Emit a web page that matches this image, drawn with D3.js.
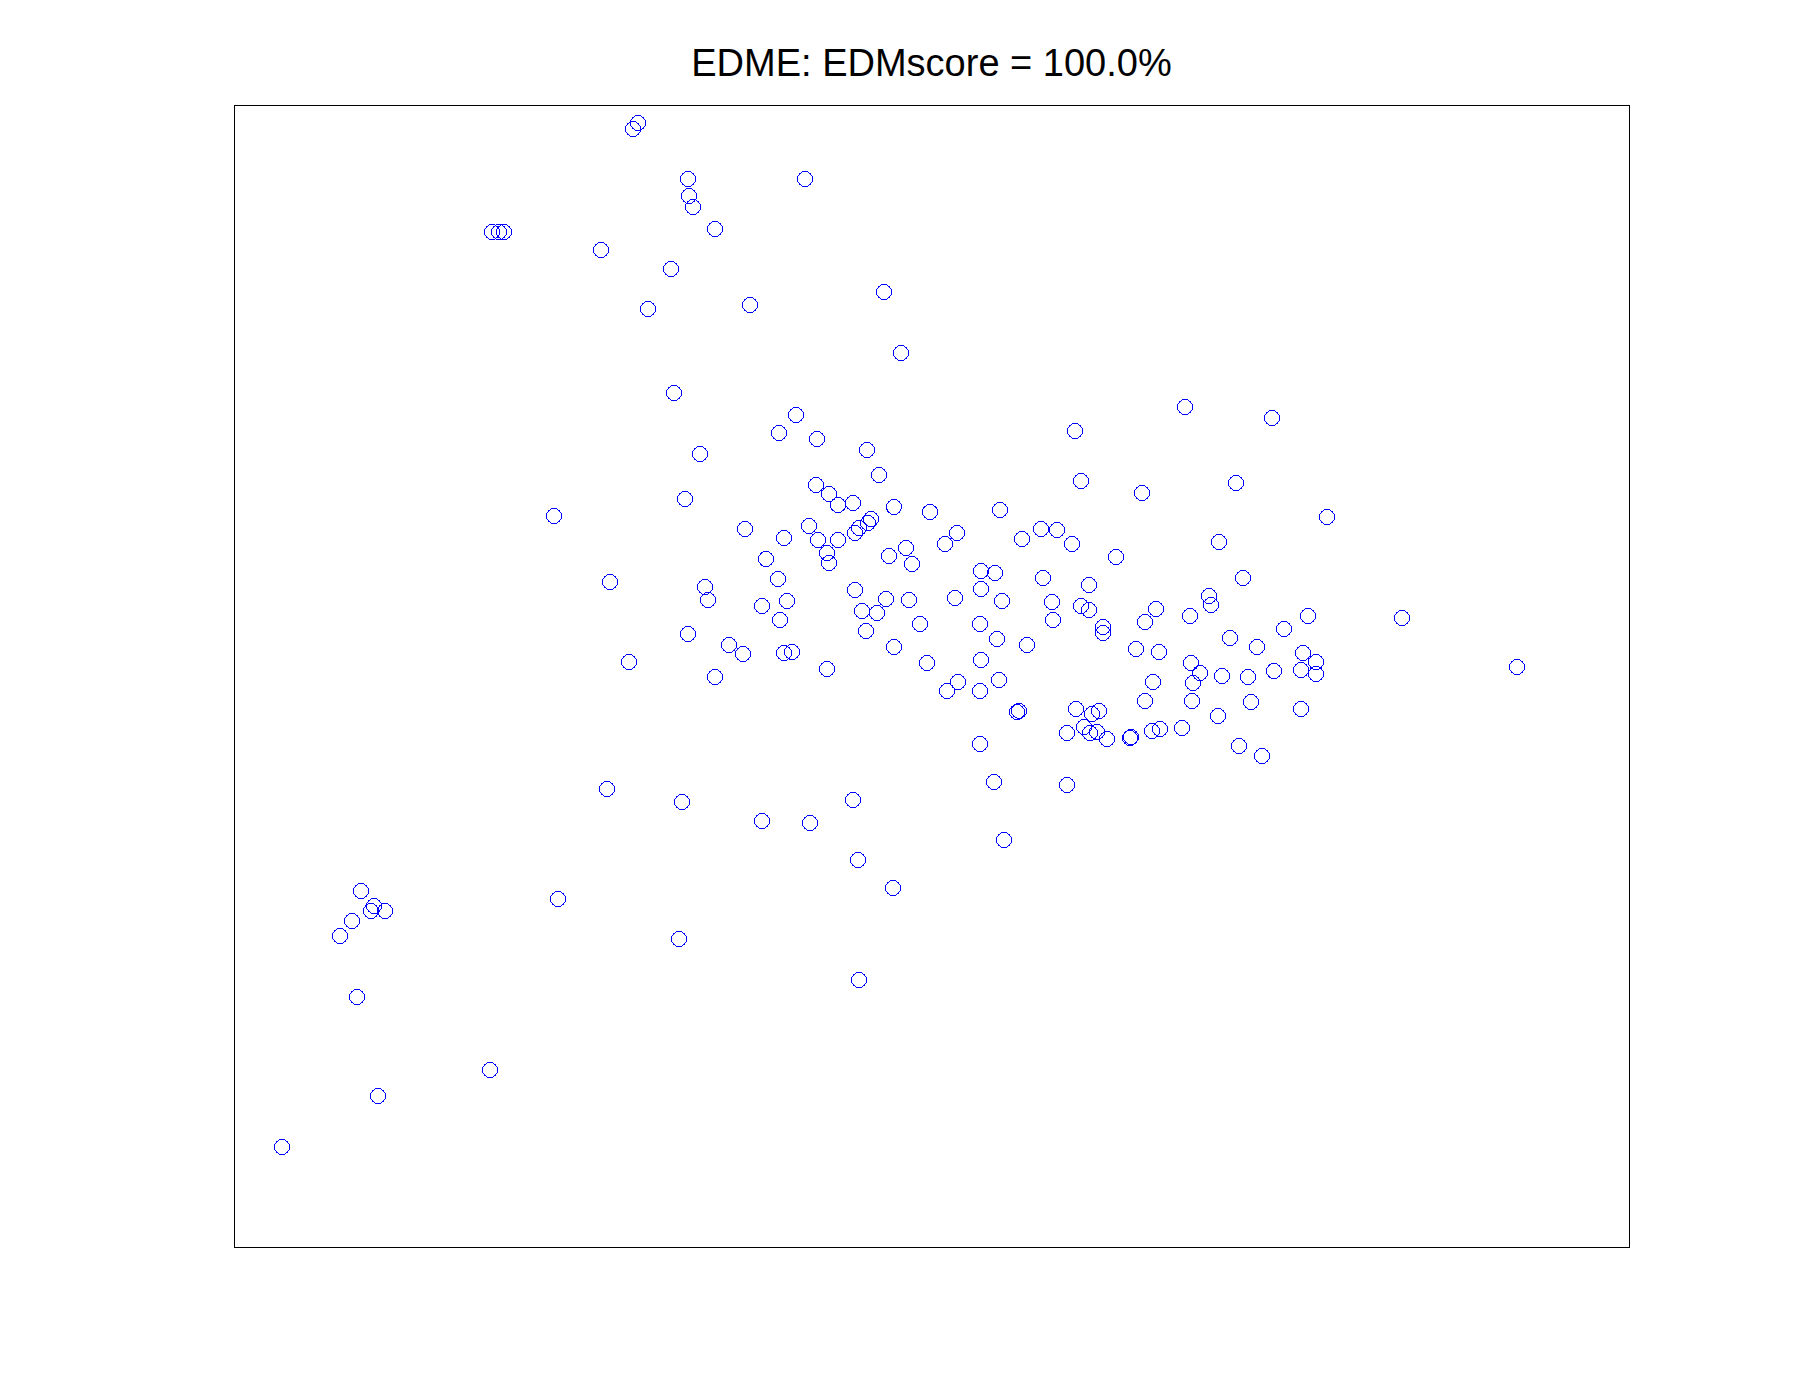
<!DOCTYPE html>
<html>
<head>
<meta charset="utf-8">
<script src="https://cdn.jsdelivr.net/npm/d3@7"></script>
<style>
	body { margin: 0; background: #fff; }
</style>
</head>
<body>
<div id="chart"></div>
<script>
var chartTitle = "EDME: EDMscore = 100.0%";

// embedding coordinates (arbitrary units, axes are hidden in the original)
var xValues = [
	404, 399, 454, 571, 455, 459, 481, 258, 265, 270, 367, 437, 650, 414, 516, 667, 440,
	545, 466, 451, 320, 511, 550, 532, 544, 376, 471, 474, 528, 553,
	562, 583, 633, 645, 582, 595, 604, 619, 660, 696, 766, 637, 634, 625, 621, 575, 584, 604, 593, 595,
	655, 672, 678, 711, 723, 788, 807, 823, 747, 761, 747, 809, 621, 652, 675, 721, 768, 818,
	951, 1038, 841, 847, 908, 1002, 1093, 838, 882, 985, 1009, 855, 975, 977,
	1168, 1283,
	546, 454, 495, 509, 550, 558, 395, 481, 373, 448,
	628, 643, 819, 632, 686, 746, 763, 793, 593, 660, 693, 747, 724, 713, 746, 765, 783, 785, 746, 760, 619,
	847, 855, 869, 869, 922, 911, 956, 1074, 1050, 996, 1023, 902, 925, 1069, 957, 966, 959, 988, 1014,
	1040, 1067, 1082, 1082, 919, 911, 958, 1017, 1067, 984, 842, 858, 865, 850, 856, 863, 833, 873,
	896, 897, 918, 926, 948, 1005, 1028, 833,
	127, 140, 137, 151, 118, 106, 324, 445, 123, 256, 144, 48,
	528, 576, 770, 624, 659, 625
];
var yValues = [
	1124, 1118, 1068, 1068, 1051, 1040, 1018, 1015, 1015, 1015, 997, 978, 955, 938, 942, 894, 854,
	814, 793, 748, 731, 718, 709, 688, 668, 665, 660, 647, 641, 646,
	832, 808, 797, 772, 762, 753, 742, 744, 740, 735, 737, 728, 724, 719, 714, 721, 707, 707, 694, 684,
	691, 699, 683, 703, 714, 708, 718, 717, 676, 674, 658, 669, 657, 648, 647, 649, 646, 645,
	840, 829, 816, 766, 754, 764, 730, 703, 690, 705, 669, 662, 651, 642,
	629, 580,
	627, 613, 602, 593, 594, 595, 585, 570, 458, 445,
	636, 634, 627, 616, 623, 623, 608, 602, 578, 600, 584, 587, 565, 556, 556, 567, 535, 536, 503, 465, 447,
	641, 637, 620, 614, 638, 625, 631, 631, 618, 609, 600, 598, 595, 594, 584, 574, 564, 571, 570,
	576, 577, 585, 573, 565, 546, 546, 545, 538, 531, 538, 533, 536, 520, 514, 515, 514, 508,
	509, 510, 516, 518, 519, 501, 491, 462,
	356, 341, 336, 336, 326, 311, 348, 308, 250, 177, 151, 100,
	426, 424, 407, 387, 359, 267
];
var xExtent = [0, 1395];
var yExtent = [0, 1142];

var margin = { top: 105, left: 234, right: 171, bottom: 153 },
	width = 1800 - margin.left - margin.right,
	height = 1400 - margin.top - margin.bottom;

var svg = d3.select("#chart")
	.append("svg")
	.attr("width", width + margin.left + margin.right)
	.attr("height", height + margin.top + margin.bottom)
	.style("font-family", "'Liberation Sans', Arial, sans-serif");

var g = svg.append("g")
	.attr("transform", "translate(" + margin.left + "," + margin.top + ")");

var xPositionScale = d3.scaleLinear().domain(xExtent).range([0, width]);
var yPositionScale = d3.scaleLinear().domain(yExtent).range([height, 0]);

var points = xValues.map(function(x, i) {
	return { x: x, y: yValues[i] };
});

// plot frame (no ticks in the original)
g.append("rect")
	.attr("x", 0.5)
	.attr("y", 0.5)
	.attr("width", width)
	.attr("height", height)
	.attr("fill", "none")
	.attr("stroke", "#000")
	.attr("stroke-width", 1)
	.attr("shape-rendering", "crispEdges");

g.selectAll(".pt")
	.data(points)
	.enter()
	.append("circle")
	.attr("class", "pt")
	.attr("cx", function(d) { return xPositionScale(d.x) })
	.attr("cy", function(d) { return yPositionScale(d.y) })
	.attr("r", 7.5)
	.attr("fill", "none")
	.attr("stroke", "#0000ff")
	.attr("stroke-width", 1)
	.attr("shape-rendering", "crispEdges");

svg.append("text")
	.attr("x", margin.left + width / 2)
	.attr("y", 76)
	.attr("text-anchor", "middle")
	.attr("font-size", 38)
	.attr("fill", "#000")
	.text(chartTitle);
</script>
</body>
</html>
